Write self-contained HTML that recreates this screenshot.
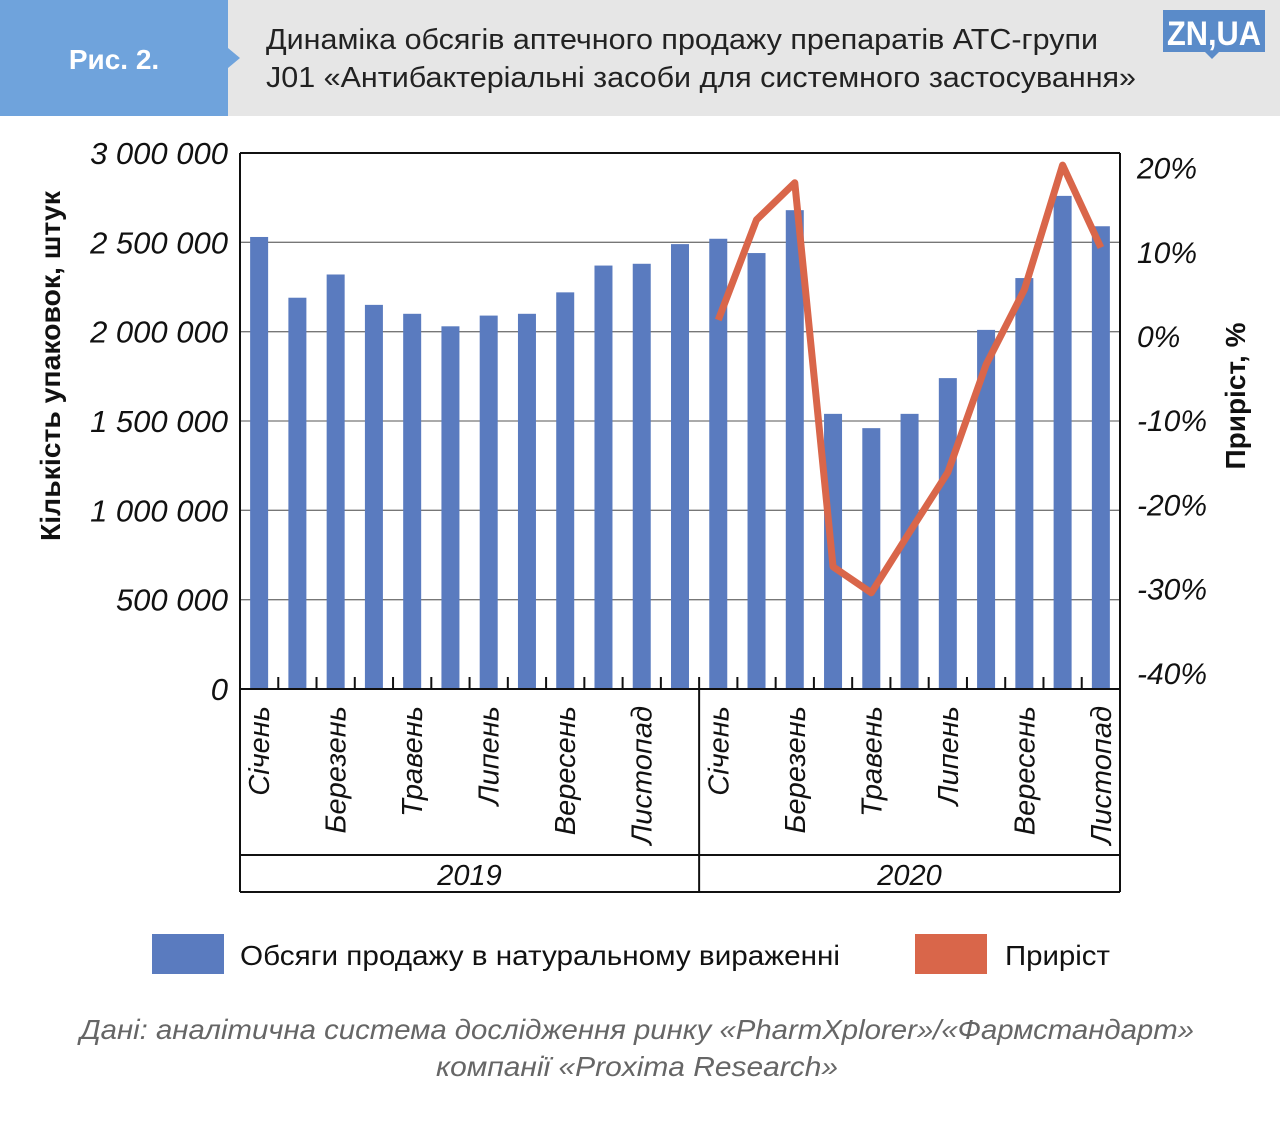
<!DOCTYPE html>
<html><head><meta charset="utf-8"><style>
body{margin:0;background:#fff;width:1280px;height:1120px;overflow:hidden;font-family:"Liberation Sans",sans-serif}
</style></head><body>
<svg width="1280" height="1120" xmlns="http://www.w3.org/2000/svg">
<rect x="0" y="0" width="1280" height="116" fill="#e6e6e6"/>
<path d="M0 0H228V48L240 58L228 68V116H0Z" fill="#6fa3dc"/>
<text x="114" y="69" text-anchor="middle" font-size="28" font-weight="bold" fill="#fff">Рис. 2.</text>
<text x="266" y="49" font-size="29" fill="#222" textLength="832" lengthAdjust="spacingAndGlyphs">Динаміка обсягів аптечного продажу препаратів АТС-групи</text>
<text x="266" y="87" font-size="29" fill="#222" textLength="870" lengthAdjust="spacingAndGlyphs">J01 «Антибактеріальні засоби для системного застосування»</text>
<g><rect x="1163" y="10" width="102" height="42" fill="#5a8bc9"/><path d="M1205 52L1212 59L1219 52Z" fill="#5a8bc9"/><text x="1214" y="45" text-anchor="middle" font-size="34" font-weight="bold" fill="#fff" textLength="94" lengthAdjust="spacingAndGlyphs">ZN,UA</text></g>
<g id="grid"></g><g id="bars"></g><g id="line"></g><g id="axes"></g>
<text transform="translate(60,366) rotate(-90)" text-anchor="middle" font-size="28" font-weight="bold" fill="#111" textLength="350" lengthAdjust="spacingAndGlyphs">Кількість упаковок, штук</text>
<text transform="translate(1245,396) rotate(-90)" text-anchor="middle" font-size="28" font-weight="bold" fill="#111">Приріст, %</text>
<g>
<rect x="152" y="934" width="72" height="40" fill="#5a7bbf"/>
<text x="240" y="965" font-size="28" fill="#111" textLength="600" lengthAdjust="spacingAndGlyphs">Обсяги продажу в натуральному вираженні</text>
<rect x="915" y="934" width="72" height="40" fill="#d9664a"/>
<text x="1005" y="965" font-size="28" fill="#111" textLength="105" lengthAdjust="spacingAndGlyphs">Приріст</text></g>
<text x="80" y="1039" font-size="28" font-style="italic" fill="#666" textLength="1114" lengthAdjust="spacingAndGlyphs">Дані: аналітична система дослідження ринку «PharmXplorer»/«Фармстандарт»</text>
<text x="436" y="1076" font-size="28" font-style="italic" fill="#666" textLength="402" lengthAdjust="spacingAndGlyphs">компанії «Proxima Research»</text>
</svg>
<script>
const months=["Січень","Лютий","Березень","Квітень","Травень","Червень","Липень","Серпень","Вересень","Жовтень","Листопад","Грудень","Січень","Лютий","Березень","Квітень","Травень","Червень","Липень","Серпень","Вересень","Жовтень","Листопад"];
const sales=[2530000,2190000,2320000,2150000,2100000,2030000,2090000,2100000,2220000,2370000,2380000,2490000,2520000,2440000,2680000,1540000,1460000,1540000,1740000,2010000,2300000,2760000,2590000];
const growth=[null,null,null,null,null,null,null,null,null,null,null,null,1.9,13.8,18.2,-27.4,-30.5,-23.3,-16.2,-3.4,5.5,20.3,10.5];
const leftTicks=[0,500000,1000000,1500000,2000000,2500000,3000000];
const leftTickLabels=["0","500 000","1 000 000","1 500 000","2 000 000","2 500 000","3 000 000"];
const rightTicks=[-40,-30,-20,-10,0,10,20];
const years=["2019","2020"];
const NS="http://www.w3.org/2000/svg";
const X0=240,X1=1120,YT=153,YB=689;
const slot=(X1-X0)/months.length;
const y=v=>YB-(v/3000000)*(YB-YT);
const y2=v=>336-v*8.42;
const xc=i=>X0+slot*(i+0.5);
function mk(p,t,a){const e=document.createElementNS(NS,t);for(const k in a)e.setAttribute(k,a[k]);document.getElementById(p).appendChild(e);return e;}
leftTicks.forEach((v,i)=>{
 const l=mk("grid","line",{x1:X0,x2:X1,y1:y(v),y2:y(v),stroke:"#777","stroke-width":1.3});
 
 
 const t=mk("axes","text",{x:228,y:y(v)+11,"text-anchor":"end","font-size":31,"font-style":"italic",fill:"#111"});
 t.textContent=leftTickLabels[i];
 
 
});
rightTicks.forEach(v=>{
 const t=mk("axes","text",{x:1137,y:y2(v)+11,"font-size":30,"font-style":"italic",fill:"#111"});
 t.textContent=v+"%";
 
 
});
sales.forEach((v,i)=>{
 const r=mk("bars","rect",{x:xc(i)-9,y:y(v),width:18,height:YB-y(v),fill:"#5a7bbf"});
 
 
});
let d="";growth.forEach((v,i)=>{if(v===null)return;d+=(d?"L":"M")+xc(i)+" "+y2(v);});
const pl=mk("line","path",{d:d,fill:"none",stroke:"#d9664a","stroke-width":7,"stroke-linejoin":"round"});


const A="axes";
[[X0,YT,X0,892],[X1,YT,X1,892],[X0,YT,X1,YT],[X0,YB,X1,YB],[X0,855,X1,855],[X0,892,X1,892],[X0+slot*12,YB,X0+slot*12,892]].forEach(c=>{
 const l=mk(A,"line",{x1:c[0],y1:c[1],x2:c[2],y2:c[3],stroke:"#111","stroke-width":2});
 
 
});
for(let i=1;i<months.length;i++){
 const l=mk(A,"line",{x1:X0+slot*i,x2:X0+slot*i,y1:YB,y2:YB-12,stroke:"#111","stroke-width":2});
 
 
}
months.forEach((m,i)=>{
 if(i%2)return;
 const t=mk(A,"text",{transform:`translate(${xc(i)+10},706) rotate(-90)`,"text-anchor":"end","font-size":29,"font-style":"italic",fill:"#111"});
 t.textContent=m;
 
 
});
years.forEach((yr,k)=>{
 const t=mk(A,"text",{x:X0+slot*(6+12*k)-(k?slot*0.5:0),y:885,"text-anchor":"middle","font-size":29,"font-style":"italic",fill:"#111"});
 t.textContent=yr;
 
 
});
</script>
</body></html>
